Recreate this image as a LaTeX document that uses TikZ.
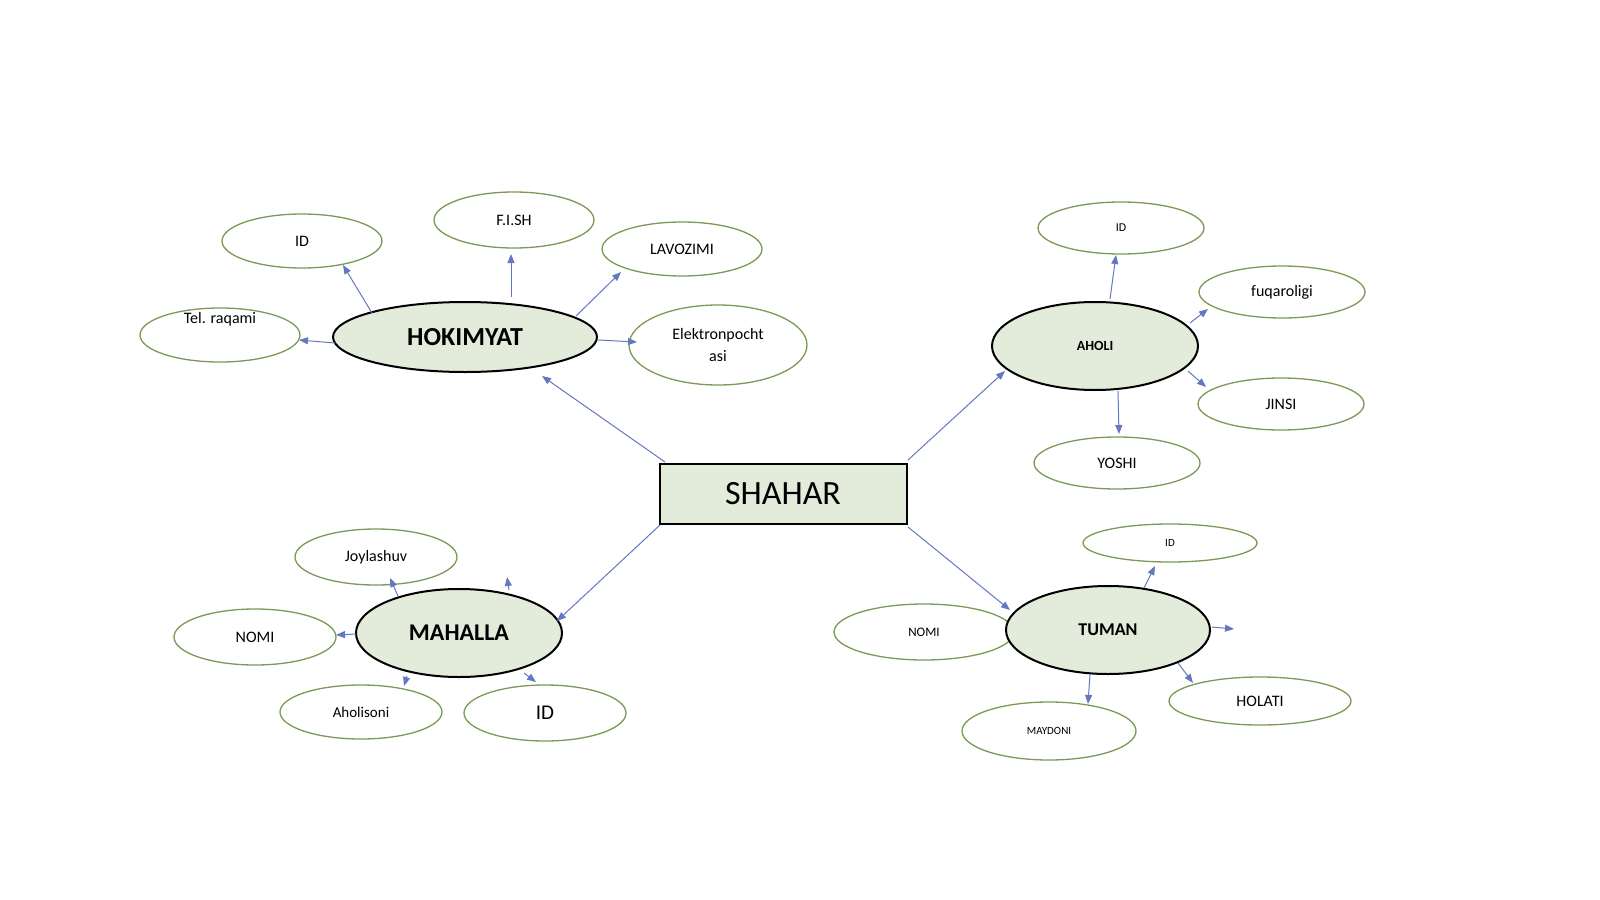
\documentclass[tikz,border=0pt]{standalone}
\usepackage{fontspec}
\setmainfont{Carlito}
\usetikzlibrary{shapes.geometric,arrows.meta}
\definecolor{gfill}{HTML}{E3EBDA}
\definecolor{gline}{HTML}{7A9A55}
\definecolor{aline}{HTML}{6478C0}
\newcommand{\fs}[1]{\fontsize{#1}{#1}\selectfont}
\begin{document}
\begin{tikzpicture}[x=1pt,y=-1pt,
 attr/.style={ellipse,draw=gline,line width=1.3pt,fill=white,inner sep=0pt,font=\fs{16}},
 ent/.style={ellipse,draw=black,line width=2pt,fill=gfill,inner sep=0pt},
 arr/.style={draw=aline,line width=1pt,-{Triangle[length=9pt,width=7pt]}}]
\useasboundingbox[fill=white] (0,0) rectangle (1600,899);
% SHAHAR
\node[draw=black,fill=gfill,line width=2pt,minimum width=247pt,minimum height=60pt,font=\fs{34}] (sh) at (783,494) {SHAHAR};
% HOKIMYAT
\node[ent,minimum width=264pt,minimum height=70pt,font=\fs{26}\bfseries] (hk) at (465,337) {HOKIMYAT};
\node[attr,minimum width=160pt,minimum height=54pt] (h1) at (302,241) {ID};
\node[attr,minimum width=160pt,minimum height=56pt] (h2) at (514,220) {F.I.SH};
\node[attr,minimum width=160pt,minimum height=54pt] (h3) at (682,249) {LAVOZIMI};
\node[attr,minimum width=160pt,minimum height=54pt] (h4) at (220,335) {};
\node[font=\fs{16}] (h4t) at (220,319) {Tel. raqami};
\node[attr,minimum width=178pt,minimum height=80pt,align=center,font=\fontsize{16}{21}\selectfont] (h5) at (718,345) {Elektronpocht\\asi};
% AHOLI
\node[ent,minimum width=206pt,minimum height=88pt,font=\fs{14}\bfseries] (ah) at (1095,346) {AHOLI};
\node[attr,minimum width=166pt,minimum height=52pt,font=\fs{12}] (a1) at (1121,228) {ID};
\node[attr,minimum width=166pt,minimum height=52pt] (a2) at (1282,292) {fuqaroligi};
\node[attr,minimum width=166pt,minimum height=52pt] (a3) at (1281,404) {JINSI};
\node[attr,minimum width=166pt,minimum height=52pt] (a4) at (1117,463) {YOSHI};
% TUMAN
\node[attr,minimum width=174pt,minimum height=38pt,font=\fs{11}] (t1) at (1170,543) {ID};
\node[attr,minimum width=180pt,minimum height=56pt,font=\fs{13}] (t2) at (924,632) {NOMI};
\node[ent,minimum width=204pt,minimum height=88pt,font=\fs{18}\bfseries] (tm) at (1108,630) {TUMAN};
\node[attr,minimum width=182pt,minimum height=48pt] (t3) at (1260,701) {HOLATI};
\node[attr,minimum width=174pt,minimum height=58pt,font=\fs{11}] (t4) at (1049,731) {MAYDONI};
% MAHALLA
\node[ent,minimum width=206pt,minimum height=88pt,font=\fs{24}\bfseries] (mh) at (459,633) {MAHALLA};
\node[attr,minimum width=162pt,minimum height=56pt] (m1) at (376,557) {Joylashuv};
\node[attr,minimum width=162pt,minimum height=56pt] (m2) at (255,637) {NOMI};
\node[attr,minimum width=162pt,minimum height=54pt,font=\fs{15}] (m3) at (361,712) {Aholisoni};
\node[attr,minimum width=162pt,minimum height=56pt,font=\fs{21}] (m4) at (545,713) {ID};
% arrows
\draw[arr] (665,462) -- (542,376);
\draw[arr] (908,460) -- (1005,371);
\draw[arr] (908,527) -- (1010,610);
\draw[arr] (660,525) -- (557,621);
\draw[arr] (372,313) -- (343,265);
\draw[arr] (511,297) -- (511,254);
\draw[arr] (576,316) -- (621,272);
\draw[arr] (598,340) -- (637,342);
\draw[arr] (335,343) -- (299,340);
\draw[arr] (1110,299) -- (1116,255);
\draw[arr] (1190,323) -- (1208,309);
\draw[arr] (1188,371) -- (1206,387);
\draw[arr] (1118,391) -- (1119,434);
\draw[arr] (1144,588) -- (1155,566);
\draw[arr] (1212,627) -- (1234,629);
\draw[arr] (1178,663) -- (1193,683);
\draw[arr] (1090,674) -- (1088,704);
\draw[arr] (398,596) -- (390,578);
\draw[arr] (509,590) -- (507,577);
\draw[arr] (356,634) -- (336,635);
\draw[arr] (407,676) -- (404,686);
\draw[arr] (524,673) -- (536,682);
\end{tikzpicture}
\end{document}
